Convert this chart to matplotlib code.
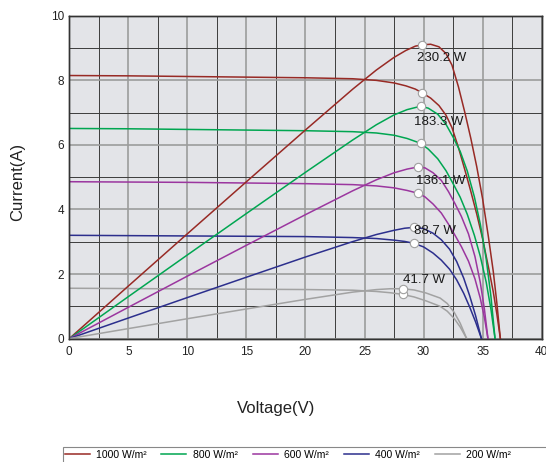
import numpy as np
import matplotlib.pyplot as plt
from matplotlib.patches import Rectangle
from matplotlib.ticker import MultipleLocator

plt.rcParams['font.family'] = ['Liberation Sans', 'DejaVu Sans']

# irradiance levels
labels = ["1000 W/m²", "800 W/m²", "600 W/m²", "400 W/m²", "200 W/m²"]
colors = ["#982a25", "#00a651", "#9b369f", "#2c2f8d", "#a2a2a2"]

# I-V curves (voltage in V, current in A)
v_1000 = [0, 5, 10, 15, 20, 24, 26, 27.5, 28.5, 29.3, 29.9, 30.6, 31.3, 31.9, 32.4,
          32.95, 33.5, 34.0, 34.5, 35.0, 35.5, 35.9, 36.2, 36.5]
i_1000 = [8.15, 8.14, 8.12, 8.10, 8.08, 8.05, 8.00, 7.92, 7.83, 7.73, 7.61, 7.45, 7.22, 6.92, 6.54,
          5.92, 5.22, 4.56, 3.86, 3.09, 2.20, 1.45, 0.77, 0]

v_800 = [0, 5, 10, 15, 20, 24, 26, 27.5, 28.6, 29.75, 30.4, 31.2, 31.9, 32.5, 33.1,
         33.7, 34.3, 34.8, 35.3, 35.7, 36.05]
i_800 = [6.51, 6.50, 6.48, 6.46, 6.44, 6.41, 6.37, 6.30, 6.20, 6.05, 5.87, 5.57, 5.20, 4.80, 4.38,
         3.85, 3.20, 2.55, 1.75, 0.92, 0]

v_600 = [0, 5, 10, 15, 20, 24, 26, 27.5, 28.6, 29.55, 30.12, 30.8, 31.5, 32.1, 32.66,
         33.2, 33.8, 34.35, 34.8, 35.15, 35.45]
i_600 = [4.86, 4.85, 4.84, 4.82, 4.80, 4.77, 4.73, 4.67, 4.59, 4.50, 4.39, 4.17, 3.89, 3.55, 3.20,
         2.85, 2.40, 1.85, 1.25, 0.65, 0]

v_400 = [0, 5, 10, 15, 20, 24, 26, 27.5, 28.4, 29.2, 30.0, 30.8, 31.5, 32.2, 32.8,
         33.4, 33.9, 34.4, 34.9]
i_400 = [3.20, 3.19, 3.18, 3.17, 3.16, 3.13, 3.10, 3.05, 3.01, 2.95, 2.84, 2.65, 2.43, 2.15, 1.82,
         1.40, 0.98, 0.52, 0]

v_200 = [0, 5, 10, 15, 20, 24, 26, 27.2, 28.2, 29.2, 30.2, 31.4, 32.0, 32.6, 33.1, 33.65]
i_200 = [1.56, 1.55, 1.54, 1.53, 1.52, 1.50, 1.46, 1.42, 1.37, 1.29, 1.17, 1.00, 0.85, 0.62, 0.36, 0]

volts = [v_1000, v_800, v_600, v_400, v_200]
amps = [i_1000, i_800, i_600, i_400, i_200]

# maximum power points
vmp = [29.9, 29.75, 29.55, 29.2, 28.25]
imp = [7.61, 6.05, 4.50, 2.95, 1.37]
pmax = [230.2, 183.3, 136.1, 88.7, 41.7]

fig = plt.figure(figsize=(5.46, 4.62), dpi=100)
ax = fig.add_axes([0.1269, 0.2671, 0.8652, 0.6987])
ax2 = ax.twinx()   # hidden power axis, 0-250 W

# label offsets (V, W) from the max power point
lab_dx = [-0.43, -0.56, -0.22, 0.0, 0.0]
lab_dy = [-12.5, -15.8, -14.1, -5.2, 3.6]

for k in range(5):
    v = np.array(volts[k])
    i = np.array(amps[k])
    ax.plot(v, i, color=colors[k], lw=1.1, label=labels[k])
    ax2.plot(v, v * i, color=colors[k], lw=1.1)
    ax.plot(vmp[k], imp[k], 'o', ms=6, mfc='white', mec='#a0a0a0', mew=0.8, zorder=5)
    ax2.plot(vmp[k], vmp[k] * imp[k], 'o', ms=6, mfc='white', mec='#a0a0a0', mew=0.8, zorder=5)
    ax2.text(vmp[k] + lab_dx[k], pmax[k] + lab_dy[k], f"{pmax[k]} W",
             fontsize=9.5, ha='left', va='center', color='#1a1a1a', zorder=6)

ax.set_xlim(0, 40)
ax.set_ylim(0, 10)
ax2.set_ylim(0, 250)
ax2.tick_params(right=False, labelright=False)

ax.set_facecolor('#e3e4e8')
ax.xaxis.set_major_locator(MultipleLocator(5))
ax.xaxis.set_minor_locator(MultipleLocator(2.5))
ax.yaxis.set_major_locator(MultipleLocator(2))
ax.yaxis.set_minor_locator(MultipleLocator(1))
ax.grid(which='major', color='#9c9c9c', lw=1.2)
ax.grid(which='minor', color='#3c3c3c', lw=0.7)
ax.set_axisbelow(True)
ax.tick_params(which='both', length=0, labelsize=8.5, colors='#222222')
ax.tick_params(axis='x', pad=5)
ax.tick_params(axis='y', pad=3.5)

for a in (ax, ax2):
    for s in a.spines.values():
        s.set_color('#333333')
        s.set_linewidth(1.0)

fig.text(18 / 546, 1 - 182 / 462, "Current(A)", rotation=90, fontsize=12,
         ha='center', va='center', color='#222222')
fig.text(276 / 546, 1 - 408 / 462, "Voltage(V)", fontsize=12,
         ha='center', va='center', color='#222222')

# legend box runs past the right and bottom edge, like the original
fig.patches.append(Rectangle((62.5 / 546, -0.05), 0.95, 0.05 + 1 - 447 / 462,
                             transform=fig.transFigure, facecolor='white',
                             edgecolor='#888888', lw=0.8))
handles, names = ax.get_legend_handles_labels()
fig.legend(handles, names, loc='upper left', bbox_to_anchor=(64.5 / 546, 1 - 449.5 / 462),
           ncol=5, fontsize=7.5, frameon=False, handlelength=2.4, handletextpad=0.6,
           columnspacing=1.45, borderpad=0, borderaxespad=0)

fig.savefig("out.png", dpi=100)
